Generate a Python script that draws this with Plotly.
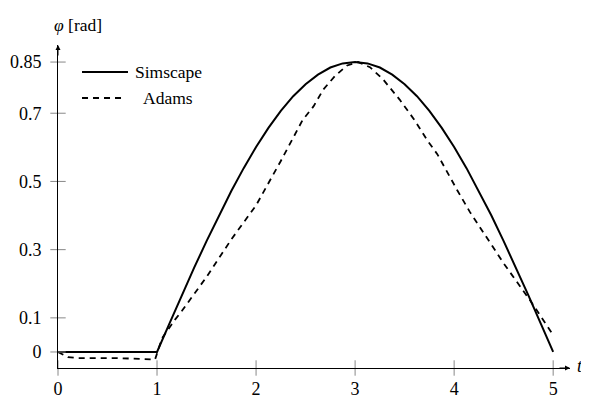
import plotly.graph_objects as go

# Simscape (solid)
t_sim = [0, 0.5, 1.0, 1.125, 1.25, 1.375, 1.5, 1.625, 1.75, 1.875, 2.0, 2.125, 2.25, 2.375, 2.5, 2.625, 2.75, 2.875,
         3.0, 3.125, 3.25, 3.375, 3.5, 3.625, 3.75, 3.875, 4.0, 4.125, 4.25, 4.375, 4.5, 4.625, 4.75, 4.875, 5.0]
phi_sim = [0, 0, 0, 0.083, 0.166, 0.247, 0.325, 0.401, 0.472, 0.539, 0.601, 0.657, 0.707, 0.750, 0.785, 0.813, 0.834, 0.846,
           0.85, 0.846, 0.834, 0.813, 0.785, 0.750, 0.707, 0.657, 0.601, 0.539, 0.472, 0.401, 0.325, 0.247, 0.166, 0.083, 0.0]

# Adams (dashed)
t_adams = [0, 0.1, 0.2, 0.6, 0.98, 1.05, 1.18, 1.25, 1.5, 1.64, 1.75, 2.0, 2.25, 2.47, 2.58, 2.68, 2.8, 2.92, 3.03,
           3.15, 3.28, 3.45, 3.6, 3.73, 3.83, 4.03, 4.16, 4.5, 4.77, 5.0]
phi_adams = [0, -0.015, -0.018, -0.018, -0.022, 0.04, 0.094, 0.12, 0.22, 0.28, 0.33, 0.43, 0.56, 0.68, 0.72, 0.77, 0.81, 0.84, 0.85,
             0.835, 0.80, 0.74, 0.68, 0.62, 0.58, 0.475, 0.41, 0.26, 0.15, 0.05]

series_names = ["Simscape", "Adams"]

x_ticks = [0, 1, 2, 3, 4, 5]
y_ticks = [0, 0.1, 0.3, 0.5, 0.7, 0.85]
y_tick_labels = ["0", "0.1", "0.3", "0.5", "0.7", "0.85"]

X_MIN, X_MAX = 0, 5.17
Y_MIN, Y_MAX = -0.047, 0.90

FONT = "Liberation Serif, Times New Roman, serif"
DASH = "6px,5px"

fig = go.Figure()
fig.add_trace(go.Scatter(x=t_sim, y=phi_sim, mode="lines", name=series_names[0], showlegend=False,
                         line=dict(color="black", width=2)))
fig.add_trace(go.Scatter(x=t_adams, y=phi_adams, mode="lines", name=series_names[1], showlegend=False,
                         line=dict(color="black", width=1.8, dash=DASH)))

# tick marks crossing the axes
fig.add_trace(go.Scatter(x=x_ticks, y=[Y_MIN] * len(x_ticks), mode="markers", showlegend=False,
                         cliponaxis=False, hoverinfo="skip",
                         marker=dict(symbol="line-ns-open", size=11, color="#888888",
                                     line=dict(color="#888888", width=1))))
fig.add_trace(go.Scatter(x=[X_MIN] * len(y_ticks), y=y_ticks, mode="markers", showlegend=False,
                         cliponaxis=False, hoverinfo="skip",
                         marker=dict(symbol="line-ew-open", size=11, color="#888888",
                                     line=dict(color="#888888", width=1))))

# page body has an 8px margin, so the figure is 8px smaller than the window
fig.update_layout(
    width=581, height=388,
    margin=dict(l=50, r=19, t=37, b=28, autoexpand=False),
    plot_bgcolor="white", paper_bgcolor="white",
    font=dict(family=FONT, size=18, color="black"),
    showlegend=False,
    xaxis=dict(range=[X_MIN, X_MAX], showgrid=False, zeroline=False, showline=True, automargin=False,
               linecolor="black", linewidth=1, tickmode="array", tickvals=x_ticks,
               ticks="", ticklabelstandoff=4, tickfont=dict(family=FONT, size=18)),
    yaxis=dict(range=[Y_MIN, Y_MAX], showgrid=False, zeroline=False, showline=True, automargin=False,
               linecolor="black", linewidth=1, tickmode="array", tickvals=y_ticks,
               ticktext=y_tick_labels, ticks="", ticklabelstandoff=12, tickfont=dict(family=FONT, size=18)),
)

# manual legend (pgfplots style)
leg_rows = [(0.9164, dict(color="black", width=2), 0.1367),
            (0.8359, dict(color="black", width=1.8, dash=DASH), 0.125)]
for name, (yy, ln, x1) in zip(series_names, leg_rows):
    fig.add_shape(type="line", xref="paper", yref="paper", x0=0.0469, x1=x1, y0=yy, y1=yy, line=ln)
    fig.add_annotation(x=0.215, y=yy, xref="paper", yref="paper", xanchor="center", yanchor="middle",
                       showarrow=False, text=name, font=dict(family=FONT, size=17.5))

# arrowheads at axis ends
fig.add_annotation(x=1.0, y=0, xref="paper", yref="paper", ax=-12, ay=0, showarrow=True,
                   arrowhead=2, arrowsize=1, arrowwidth=1, arrowcolor="black", text="")
fig.add_annotation(x=0, y=1.0, xref="paper", yref="paper", ax=0, ay=12, showarrow=True,
                   arrowhead=2, arrowsize=1, arrowwidth=1, arrowcolor="black", text="")

# axis labels
fig.add_annotation(x=1.0, y=0, xref="paper", yref="paper", xshift=5, yshift=2, xanchor="left", yanchor="middle",
                   showarrow=False, text="<i>t</i>", font=dict(family=FONT, size=18))
fig.add_annotation(x=0, y=1.0, xref="paper", yref="paper", xshift=20, yshift=8, xanchor="center",
                   yanchor="bottom", showarrow=False, text="<i>φ</i> [rad]", font=dict(family=FONT, size=17.5))

fig.write_html("out.html")
